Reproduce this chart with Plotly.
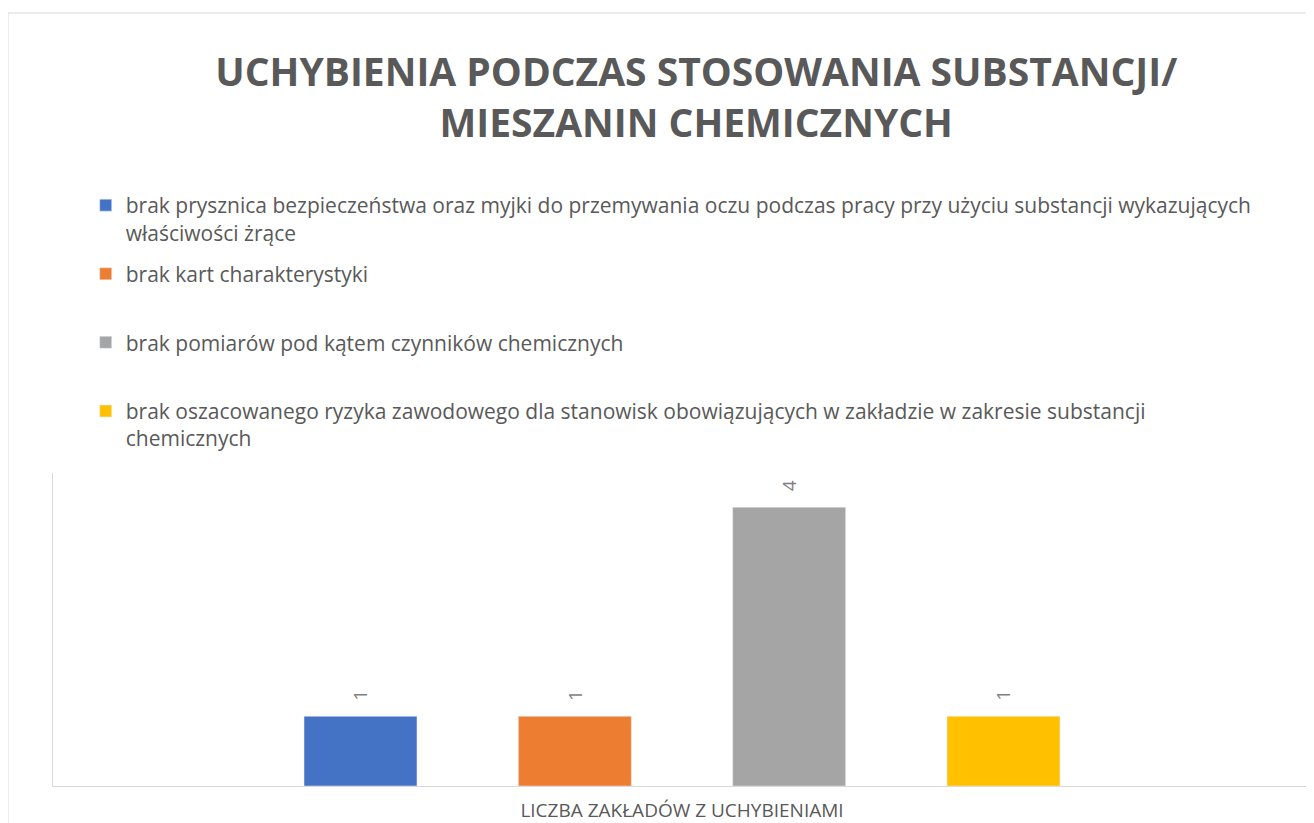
import plotly.graph_objects as go

title_text = "UCHYBIENIA PODCZAS STOSOWANIA SUBSTANCJI/<br>MIESZANIN CHEMICZNYCH"
axis_title = "LICZBA ZAKŁADÓW Z UCHYBIENIAMI"
series_names = [
    "brak prysznica bezpieczeństwa oraz myjki do przemywania oczu podczas pracy przy użyciu substancji wykazujących<br>właściwości żrące",
    "brak kart charakterystyki<br> ",
    "brak pomiarów pod kątem czynników chemicznych<br> ",
    "brak oszacowanego ryzyka zawodowego dla stanowisk obowiązujących w zakładzie w zakresie substancji<br>chemicznych",
]
values = [1, 1, 4, 1]
colors = ["#4472C4", "#ED7D31", "#A5A5A5", "#FFC000"]

TEXT = "#595959"
FONT = "Open Sans"

# the page body adds an 8px margin, so the figure is 8px smaller each way
W, H = 1306, 815
ML, MR, MT, MB = 45, 3, 465, 37
PW, PH = W - ML - MR, H - MT - MB

fig = go.Figure()
for i, (name, v, c) in enumerate(zip(series_names, values, colors)):
    fig.add_trace(go.Bar(
        x=[i], y=[v], name=name, marker_color=c, width=0.527,
        legendgroup=f"g{i}", hovertemplate="%{y}<extra></extra>",
    ))
    fig.add_annotation(
        x=i, y=v, text=str(v), textangle=-90, showarrow=False,
        yshift=21, font=dict(family=FONT, size=19, color="#7f7f7f"),
    )

fig.update_layout(
    width=W, height=H,
    margin=dict(l=ML, r=MR, t=MT, b=MB),
    paper_bgcolor="white", plot_bgcolor="white",
    font=dict(family=FONT, color=TEXT),
    title=dict(
        text=title_text, xref="container", yref="container",
        x=0.527, xanchor="center", y=0.9037, yanchor="top",
        font=dict(family=FONT, size=39, color=TEXT, weight="bold"),
    ),
    legend=dict(
        x=0.026, xanchor="left", y=(MT + PH - 177) / PH, yanchor="top",
        font=dict(family=FONT, size=21, color=TEXT),
        valign="top", traceorder="grouped", tracegroupgap=11,
        bgcolor="rgba(0,0,0,0)",
    ),
    xaxis=dict(
        range=[-1.4347, 4.4347], showticklabels=False, showgrid=False,
        zeroline=False, showline=True, linecolor="#d9d9d9", linewidth=1,
        ticks="", fixedrange=True,
        title=dict(text=axis_title, standoff=18,
                   font=dict(family=FONT, size=19, color=TEXT)),
    ),
    yaxis=dict(
        range=[0, 4.49], showticklabels=False, showgrid=False,
        zeroline=False, showline=True, mirror=True, linecolor="#d9d9d9",
        linewidth=1, ticks="", fixedrange=True,
    ),
    shapes=[dict(
        type="rect", xref="paper", yref="paper",
        x0=(0 - ML) / PW, x1=(W + 20 - ML) / PW,
        y0=(MT + PH - (H + 30)) / PH, y1=(MT + PH - 5) / PH,
        line=dict(color="#d9d9d9", width=1), fillcolor="rgba(0,0,0,0)",
        layer="below",
    )],
    showlegend=True,
)

fig.write_html("out.html")
